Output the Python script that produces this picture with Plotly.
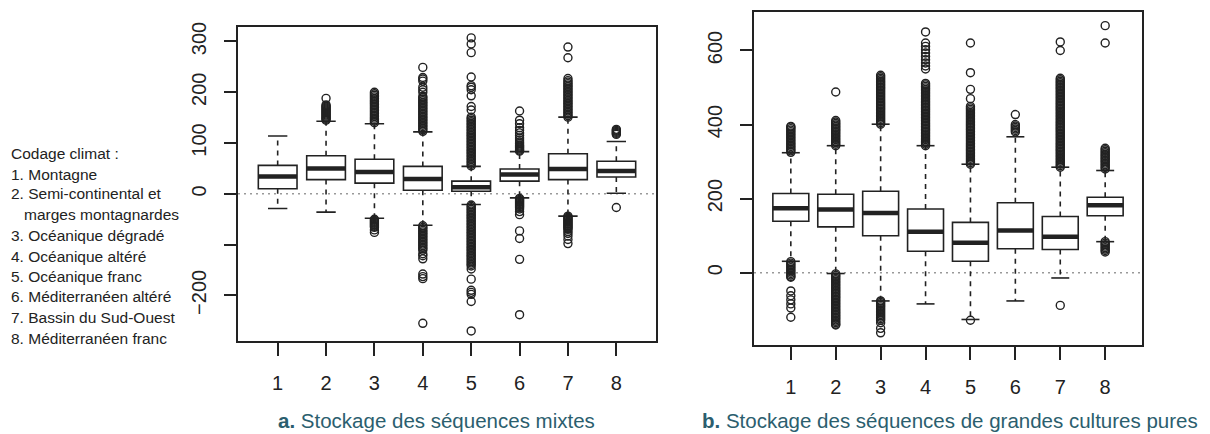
import plotly.graph_objects as go

W, H = 1210, 434

categories = [1, 2, 3, 4, 5, 6, 7, 8]
x_ticktext = ["1", "2", "3", "4", "5", "6", "7", "8"]

# ---- Panel a : Stockage des séquences mixtes ----
a_q1 = [10, 28, 21, 7, 5, 25, 28, 33]
a_median = [34, 50, 43, 29, 13, 38, 49, 45]
a_q3 = [56, 75, 68, 54, 25, 49, 79, 64]
a_low = [-29, -36, -48, -62, -21, -8, -44, 1]
a_high = [114, 143, 138, 122, 54, 83, 151, 103]
a_out_high = [
    [],
    [145, 147, 149, 151, 153, 155, 157, 159, 161, 163, 165, 167, 169, 171, 173, 175, 188],
    [140, 143, 146, 149, 152, 155, 158, 161, 164, 167, 170, 173, 176, 179, 182, 185, 188, 191,
     194, 197, 200],
    [123, 126, 129, 132, 135, 138, 141, 144, 147, 150, 153, 156, 159, 162, 165, 168, 171, 174,
     177, 180, 183, 186, 189, 192, 200, 205, 210, 222, 226, 229, 249],
    [55, 58, 61, 64, 67, 70, 73, 76, 79, 82, 85, 88, 91, 94, 97, 100, 103, 106, 109, 112, 115,
     118, 121, 124, 127, 130, 133, 136, 139, 142, 145, 148, 151,
     165, 172, 193, 205, 210, 213, 230, 278, 295, 307],
    [84, 86, 88, 90, 92, 94, 96, 99, 102, 106, 110, 115, 120, 125, 130, 138, 145, 163],
    [151, 154, 157, 160, 163, 166, 169, 172, 175, 178, 181, 184, 187, 190, 193, 196, 199, 202,
     205, 208, 211, 214, 217, 220, 223, 227, 268, 289],
    [117, 119, 121, 123, 125, 127],
]
a_out_low = [
    [],
    [],
    [-50, -52, -54, -56, -58, -60, -62, -64, -66, -71, -76],
    [-63, -66, -69, -72, -75, -78, -81, -84, -87, -90, -93, -96, -99, -102, -105, -108, -111,
     -118, -122, -128, -158, -163, -167, -255],
    [-22, -25, -28, -31, -34, -37, -40, -43, -46, -49, -52, -55, -58, -61, -64, -67, -70, -73,
     -76, -79, -82, -85, -88, -91, -94, -97, -100, -103, -106, -109, -112, -115, -118, -121,
     -124, -127, -130, -133, -136, -139, -142, -148, -168, -190, -194, -198, -212, -270],
    [-9, -11, -13, -15, -17, -19, -21, -23, -25, -27, -30, -35, -41, -73, -88, -129, -238],
    [-44, -46, -48, -50, -52, -54, -56, -58, -60, -62, -64, -66, -68, -70, -74, -78, -83, -90,
     -98],
    [-27],
]
a_ytickvals = [-200, -100, 0, 100, 200, 300]
a_yticktext = ["\u2212200", "", "0", "100", "200", "300"]

# ---- Panel b : Stockage des séquences de grandes cultures pures ----
b_q1 = [139, 124, 100, 58, 31, 65, 63, 154]
b_median = [174, 171, 161, 111, 81, 114, 97, 182]
b_q3 = [214, 212, 220, 172, 136, 189, 152, 204]
b_low = [31, -2, -76, -84, -126, -76, -14, 84]
b_high = [324, 343, 401, 343, 293, 367, 285, 276]
b_out_high = [
    [325, 329, 333, 337, 341, 345, 349, 353, 357, 361, 365, 369, 373, 377, 381, 385, 389, 393,
     395],
    [343, 347, 351, 355, 359, 363, 367, 371, 375, 379, 383, 387, 391, 395, 399, 403, 407, 411,
     488],
    [401, 405, 409, 413, 417, 421, 425, 429, 433, 437, 441, 445, 449, 453, 457, 461, 465, 469,
     473, 477, 481, 485, 489, 493, 497, 501, 505, 509, 513, 517, 521, 525, 529, 533],
    [343, 347, 351, 355, 359, 363, 367, 371, 375, 379, 383, 387, 391, 395, 399, 403, 407, 411,
     415, 419, 423, 427, 431, 435, 439, 443, 447, 451, 455, 459, 463, 467, 471, 475, 479, 483,
     487, 491, 495, 499, 503, 507, 511, 550, 558, 566, 575, 584, 593, 602, 611, 620, 650],
    [293, 297, 301, 305, 309, 313, 317, 321, 325, 329, 333, 337, 341, 345, 349, 353, 357, 361,
     365, 369, 373, 377, 381, 385, 389, 393, 397, 401, 405, 409, 413, 417, 421, 425, 429, 433,
     437, 441, 445, 449, 470, 495, 540, 620],
    [380, 384, 388, 392, 396, 400, 427],
    [285, 289, 293, 297, 301, 305, 309, 313, 317, 321, 325, 329, 333, 337, 341, 345, 349, 353,
     357, 361, 365, 369, 373, 377, 381, 385, 389, 393, 397, 401, 405, 409, 413, 417, 421, 425,
     429, 433, 437, 441, 445, 449, 453, 457, 461, 465, 469, 473, 477, 481, 485, 489, 493, 497,
     501, 505, 509, 513, 517, 521, 525, 600, 623],
    [280, 284, 288, 292, 296, 300, 304, 308, 312, 316, 320, 324, 328, 332, 336, 620, 667],
]
b_out_low = [
    [30, 26, 22, 18, 14, 10, 6, 2, -2, -6, -10, -12, -49, -62, -73, -84, -95, -120],
    [-3, -7, -11, -15, -19, -23, -27, -31, -35, -39, -43, -47, -51, -55, -59, -63, -67, -71,
     -75, -79, -83, -87, -91, -95, -99, -103, -107, -111, -115, -119, -123, -127, -131, -135,
     -139, -141],
    [-76, -80, -84, -88, -92, -96, -100, -104, -108, -112, -116, -120, -124, -128, -135, -150,
     -162],
    [],
    [-128],
    [],
    [-88],
    [84, 80, 76, 72, 68, 64, 60, 56],
]
b_ytickvals = [0, 200, 400, 600]
b_yticktext = ["0", "200", "400", "600"]

legend_title = "Codage climat :"
legend_lines = [
    "1. Montagne",
    "2. Semi-continental et",
    "   marges montagnardes",
    "3. Océanique dégradé",
    "4. Océanique altéré",
    "5. Océanique franc",
    "6. Méditerranéen altéré",
    "7. Bassin du Sud-Ouest",
    "8. Méditerranéen franc",
]
caption_a = "<b>a.</b> Stockage des séquences mixtes"
caption_b = "<b>b.</b> Stockage des séquences de grandes cultures pures"

INK = "#222222"
TEAL = "#2b5e6e"
BOXW = 0.8
STAPLE = 0.4

fig = go.Figure()


def add_panel(xa, ya, q1, med, q3, low, high, out_hi, out_lo):
    fig.add_trace(go.Box(
        x=categories, q1=q1, median=med, q3=q3, lowerfence=q1, upperfence=q3,
        width=BOXW, fillcolor="white", line=dict(color=INK, width=1.6),
        boxpoints=False, xaxis=xa, yaxis=ya, showlegend=False, hoverinfo="skip"))
    wx, wy = [], []
    sx, sy = [], []
    mx, my = [], []
    for c, a, m, b, lo, hi in zip(categories, q1, med, q3, low, high):
        wx += [c, c, None, c, c, None]
        wy += [b, hi, None, a, lo, None]
        sx += [c - STAPLE / 2, c + STAPLE / 2, None, c - STAPLE / 2, c + STAPLE / 2, None]
        sy += [hi, hi, None, lo, lo, None]
        mx += [c - BOXW / 2, c + BOXW / 2, None]
        my += [m, m, None]
    fig.add_trace(go.Scatter(x=wx, y=wy, mode="lines", xaxis=xa, yaxis=ya,
                             line=dict(color=INK, width=1.6, dash="5px,5px"),
                             showlegend=False, hoverinfo="skip"))
    fig.add_trace(go.Scatter(x=sx, y=sy, mode="lines", xaxis=xa, yaxis=ya,
                             line=dict(color=INK, width=1.6),
                             showlegend=False, hoverinfo="skip"))
    fig.add_trace(go.Scatter(x=mx, y=my, mode="lines", xaxis=xa, yaxis=ya,
                             line=dict(color=INK, width=4.5),
                             showlegend=False, hoverinfo="skip"))
    ox, oy = [], []
    for c, hs, ls in zip(categories, out_hi, out_lo):
        ox += [c] * (len(hs) + len(ls))
        oy += hs + ls
    fig.add_trace(go.Scatter(x=ox, y=oy, mode="markers", xaxis=xa, yaxis=ya,
                             marker=dict(symbol="circle-open", size=8, color=INK,
                                         line=dict(width=1.4, color=INK)),
                             showlegend=False, hoverinfo="skip"))


add_panel("x", "y", a_q1, a_median, a_q3, a_low, a_high, a_out_high, a_out_low)
add_panel("x2", "y2", b_q1, b_median, b_q3, b_low, b_high, b_out_high, b_out_low)

for yr in ("y", "y2"):
    fig.add_shape(type="line", xref=("x" if yr == "y" else "x2") + " domain", yref=yr,
                  x0=0, x1=1, y0=0, y1=0, layer="below",
                  line=dict(color="#999999", width=1.5, dash="2px,4px"))

tickfont = dict(family="Liberation Sans, Arial, sans-serif", size=20, color=INK)
common_x = dict(range=[0.18, 8.82], tickvals=categories, ticktext=x_ticktext,
                ticks="outside", ticklen=13, tickwidth=1.5, tickcolor=INK,
                showline=True, mirror=True, linecolor=INK, linewidth=1.6,
                showgrid=False, zeroline=False, tickfont=tickfont, ticklabelstandoff=10)
common_y = dict(ticks="outside", ticklen=12, tickwidth=1.5, tickcolor=INK,
                showline=True, mirror=True, linecolor=INK, linewidth=1.6,
                showgrid=False, zeroline=False, tickfont=tickfont, tickangle=-90,
                ticklabelstandoff=10)

fig.update_layout(
    width=W, height=H,
    margin=dict(l=0, r=0, t=0, b=0),
    paper_bgcolor="white", plot_bgcolor="white",
    showlegend=False,
    xaxis=dict(domain=[238 / W, 656 / W], anchor="y", **common_x),
    yaxis=dict(domain=[(H - 340) / H, (H - 22) / H], anchor="x", range=[-290, 329],
               tickvals=a_ytickvals, ticktext=a_yticktext, **common_y),
    xaxis2=dict(domain=[754 / W, 1142 / W], anchor="y2", **common_x),
    yaxis2=dict(domain=[(H - 344) / H, (H - 7) / H], anchor="x2", range=[-195, 704],
                tickvals=b_ytickvals, ticktext=b_yticktext, **common_y),
)

legend_font = dict(family="Liberation Sans, Arial, sans-serif", size=15.5, color=INK)
fig.add_annotation(text=legend_title, xref="paper", yref="paper", x=9 / W, y=1 - 150 / H,
                   xanchor="left", yanchor="middle", showarrow=False, font=legend_font)
line_y = [171, 191, 212, 233, 254, 275, 295, 316, 337]
for txt, py in zip(legend_lines, line_y):
    indent = txt.startswith("   ")
    fig.add_annotation(text=txt.strip(), xref="paper", yref="paper",
                       x=(22 if indent else 9) / W, y=1 - py / H,
                       xanchor="left", yanchor="middle", showarrow=False, font=legend_font)

cap_font = dict(family="Liberation Sans, Arial, sans-serif", size=20.5, color=TEAL)
fig.add_annotation(text=caption_a, xref="paper", yref="paper", x=436 / W, y=1 - 420 / H,
                   xanchor="center", yanchor="middle", showarrow=False, font=cap_font)
fig.add_annotation(text=caption_b, xref="paper", yref="paper", x=950 / W, y=1 - 420 / H,
                   xanchor="center", yanchor="middle", showarrow=False, font=cap_font)

fig.write_html("out.html", config={"displayModeBar": False},
               post_script="document.body.style.margin='0px';")
